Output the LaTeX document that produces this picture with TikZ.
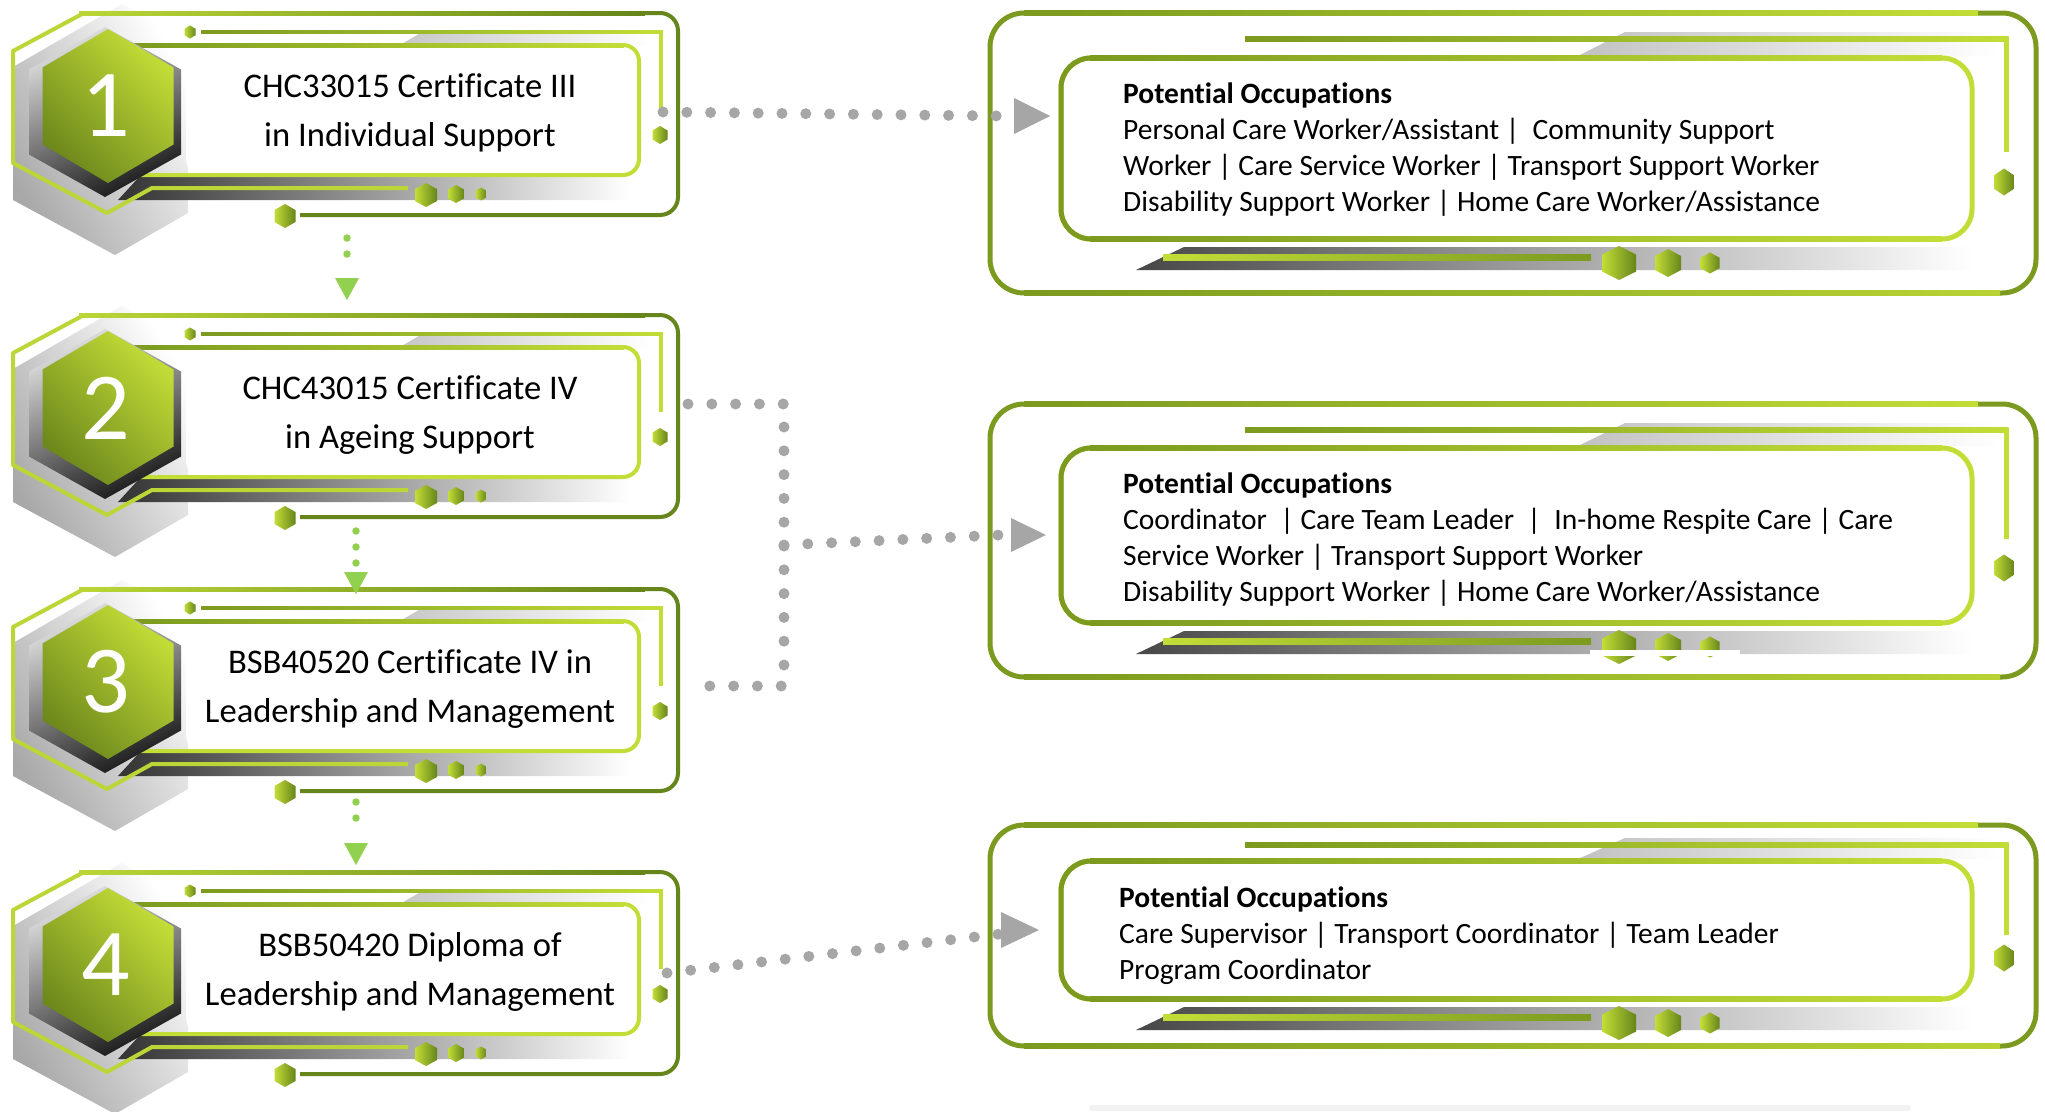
\documentclass[tikz,border=0pt]{standalone}
\usepackage{fontspec}
\setmainfont{Carlito}[Ligatures=NoCommon]
\definecolor{cLG}{HTML}{C3DD37}
\definecolor{cLG2}{HTML}{BBD636}
\definecolor{cOl}{HTML}{7B9A1F}
\definecolor{cDk}{HTML}{66851A}
\definecolor{cArr}{HTML}{92D050}
\definecolor{cDot}{HTML}{A6A6A6}
\tikzset{
  smallhex/.style={left color=cLG, right color=cDk},
  numhex/.style={top color=cLG, bottom color=cOl!88!black, shading angle=-45},
  shadhex/.style={top color=black!12, bottom color=black!90, shading angle=25},
  gdots/.style={draw=cDot, line width=11pt, line cap=round, dash pattern=on 0pt off 23.8pt},
  grdots/.style={draw=cArr, line width=7.5pt, line cap=round, dash pattern=on 0pt off 16pt},
  cardtxt/.style={anchor=base, inner sep=0pt, font=\fontsize{34.6pt}{49pt}\selectfont},
  occtxt/.style={anchor=base west, inner sep=0pt, font=\fontsize{29.5pt}{36pt}\selectfont},
  numtxt/.style={inner sep=0pt, text=white, font=\fontsize{96pt}{96pt}\selectfont}
}
% hexagon with vertical sides: options, cx, cy, half width, half height
\newcommand{\hexs}[5]{%
  \shade[#1] ({#2-#4},{#3-#5/2}) -- (#2,{#3-#5}) -- ({#2+#4},{#3-#5/2}) --
    ({#2+#4},{#3+#5/2}) -- (#2,{#3+#5}) -- ({#2-#4},{#3+#5/2}) -- cycle;}
% left card: shift, number, line 1, line 2, name
\newcommand{\card}[5]{%
\begin{scope}[shift={(0,#1)}]
  \shade[left color=black!34, right color=white, shading angle=120]
    (122,4) -- (188,42) -- (188,213) -- (115,255) -- (13,200) -- (13,67) -- cycle;
  \shade[left color=black!22, right color=white] (400,45) -- (424,31) -- (650,31) -- (650,45) -- cycle;
  \shade[left color=black!80, right color=white] (118,200) -- (140,176) -- (630,176) -- (630,200) -- cycle;
  \shade[left color=cOl, right color=cLG] (201,30.25) rectangle (662.75,33.75);
  \draw[cLG, line width=3.5pt] (661,30.25) -- (661,110);
  \draw[cDk, line width=4pt, rounded corners=18pt] (640,13) -- (678,13) -- (678,215) -- (300,215);
  \shade[left color=cLG2, right color=cDk] (79,11) rectangle (645,15);
  \fill[white, rounded corners=16pt] (186,45) rectangle (639,175);
  \draw[cLG, line width=4pt, rounded corners=16pt] (300,45) -- (639,45) -- (639,175) -- (110,175);
  \shade[left color=cOl, right color=cLG] (133,43) rectangle (624,47);
  \draw[cLG2, line width=4pt, line join=round] (84,13) -- (13,51) -- (13,163) -- (107,213) -- (152,188) -- (408,188);
  \hexs{shadhex}{105}{112}{76}{85}
  \hexs{numhex}{108}{106}{65.5}{77}
  \node[numtxt] (#5num) at (106,106) {#2};
  \hexs{smallhex}{190}{32}{5.5}{6.5}
  \hexs{smallhex}{660}{135}{7.5}{9}
  \hexs{smallhex}{285}{216}{10.5}{12}
  \hexs{smallhex}{426}{195}{11}{12}
  \hexs{smallhex}{456}{194}{8}{9}
  \hexs{smallhex}{481}{194}{5.5}{6.5}
  \node[cardtxt] (#5txt) at (410,97) {\begin{tabular}[t]{@{}c@{}}#3\\#4\end{tabular}};
\end{scope}}
% right box: T, L2Y, IT, IB, B, HexY, L2B
\newcommand{\rbox}[7]{%
  \shade[left color=black!24, right color=white] (1578,{#3-2}) -- (1625,{#2-7}) -- (2000,{#2-7}) -- (2000,{#3-2}) -- cycle;
  \shade[left color=cOl, right color=cLG] (1245,{#2-2.5}) rectangle (2008.5,{#2+2.5});
  \draw[cLG, line width=5pt] (2006,{#2-2.5}) -- (2006,#7);
  \draw[cOl, line width=5pt, rounded corners=34pt] (990,#1) rectangle (2036,#5);
  \shade[left color=cOl, right color=cLG] (1024,{#1-2.5}) rectangle (1978,{#1+2.5});
  \shade[left color=cOl, right color=cLG!85!cOl] (1024,{#5-2.5}) rectangle (2000,{#5+2.5});
  \filldraw[fill=white, draw=cLG, line width=5pt, rounded corners=30pt] (1061,#3) rectangle (1972,#4);
  \draw[cOl, line width=5pt, rounded corners=30pt] (1110,#4) -- (1061,#4) -- (1061,#3) -- (1110,#3);
  \shade[left color=cOl, right color=cLG] (1090,{#3-2.5}) rectangle (1942,{#3+2.5});
  \shade[left color=cOl, right color=cLG] (1090,{#4-2.5}) rectangle (1942,{#4+2.5});
  \begin{scope}[shift={(0,#4)}]
    \shade[left color=black!72, right color=white] (1136,31) -- (1184,8) -- (1972,8) -- (1972,31) -- cycle;
    \shade[left color=cLG, right color=cOl] (1163,15) rectangle (1591,21);
    \hexs{smallhex}{1619}{24}{17}{17}
    \hexs{smallhex}{1668}{24}{13}{14}
    \hexs{smallhex}{1710}{24}{9.5}{10.5}
  \end{scope}
  \hexs{smallhex}{2004}{#6}{10}{13.5}
}
\begin{document}
\begin{tikzpicture}[x=1pt,y=-1pt]
\useasboundingbox (0,0) rectangle (2045,1111);
\fill[white] (0,0) rectangle (2045,1111);
\fill[black!5, rounded corners=3pt] (1089,1105) rectangle (1911,1111);

\card{0}{1}{CHC33015 Certificate III}{in Individual Support}{c1}
\card{302}{2}{CHC43015 Certificate IV}{in Ageing Support}{c2}
\card{576}{3}{BSB40520 Certificate IV in}{Leadership and Management}{c3}
\card{859}{4}{BSB50420 Diploma of}{Leadership and Management}{c4}

\rbox{13}{39}{58}{239}{293}{182}{152}
\rbox{404}{430}{448}{623}{677}{568}{539}
\rbox{825}{845}{861}{999}{1046}{958}{935}
% white cut across the hexagons of the middle box
\fill[white] (1590,650) rectangle (1740,656);

\node[occtxt] (o1) at (1123,103) {\begin{tabular}[t]{@{}l@{}}\textbf{Potential Occupations}\\
Personal Care Worker/Assistant |\ \ Community Support\\
Worker | Care Service Worker | Transport Support Worker\\
Disability Support Worker | Home Care Worker/Assistance\end{tabular}};
\node[occtxt] (o2) at (1123,493) {\begin{tabular}[t]{@{}l@{}}\textbf{Potential Occupations}\\
Coordinator\ \ | Care Team Leader\ \ |\ \ In-home Respite Care | Care\\
Service Worker | Transport Support Worker\\
Disability Support Worker | Home Care Worker/Assistance\end{tabular}};
\node[occtxt] (o3) at (1119,907) {\begin{tabular}[t]{@{}l@{}}\textbf{Potential Occupations}\\
Care Supervisor | Transport Coordinator | Team Leader\\
Program Coordinator\end{tabular}};

% green arrows between cards
\coordinate (g1s) at (347,238); \coordinate (g1m) at (347,270); \coordinate (g1e) at (347,300);
\coordinate (g2s) at (356,531); \coordinate (g2m) at (356,563); \coordinate (g2e) at (356,594);
\coordinate (g3s) at (356,802); \coordinate (g3m) at (356,833); \coordinate (g3e) at (356,865);
\foreach \g in {g1,g2,g3}{
  \draw[grdots] (\g s) -- (\g m);
  \fill[cArr] (\g e) -- ++(-12,-22) -- ++(24,0) -- cycle;
}

% grey connectors
\coordinate (s1) at (663,112); \coordinate (e1) at (1002,116); \coordinate (t1) at (1050,116);
\draw[gdots] (s1) -- (e1);
\fill[cDot] (t1) -- ++(-36,-18) -- ++(0,36) -- cycle;

\coordinate (s2) at (688,404); \coordinate (j1) at (784,404);
\coordinate (s3) at (688,686); \coordinate (j2) at (784,686);
\coordinate (jm) at (784,545); \coordinate (e2) at (1000,535); \coordinate (t2) at (1046,535);
\draw[gdots] (s2) -- (j1) -- (j2) -- (s3);
\draw[gdots] (jm) -- (e2);
\fill[cDot] (t2) -- ++(-35,-17) -- ++(0,34) -- cycle;

\coordinate (s4) at (667,973); \coordinate (e3) at (1000,934); \coordinate (t3) at (1039,930);
\draw[gdots] (s4) -- (e3);
\fill[cDot] (t3) -- ++(-38,-18) -- ++(0,36) -- cycle;
\end{tikzpicture}
\end{document}
